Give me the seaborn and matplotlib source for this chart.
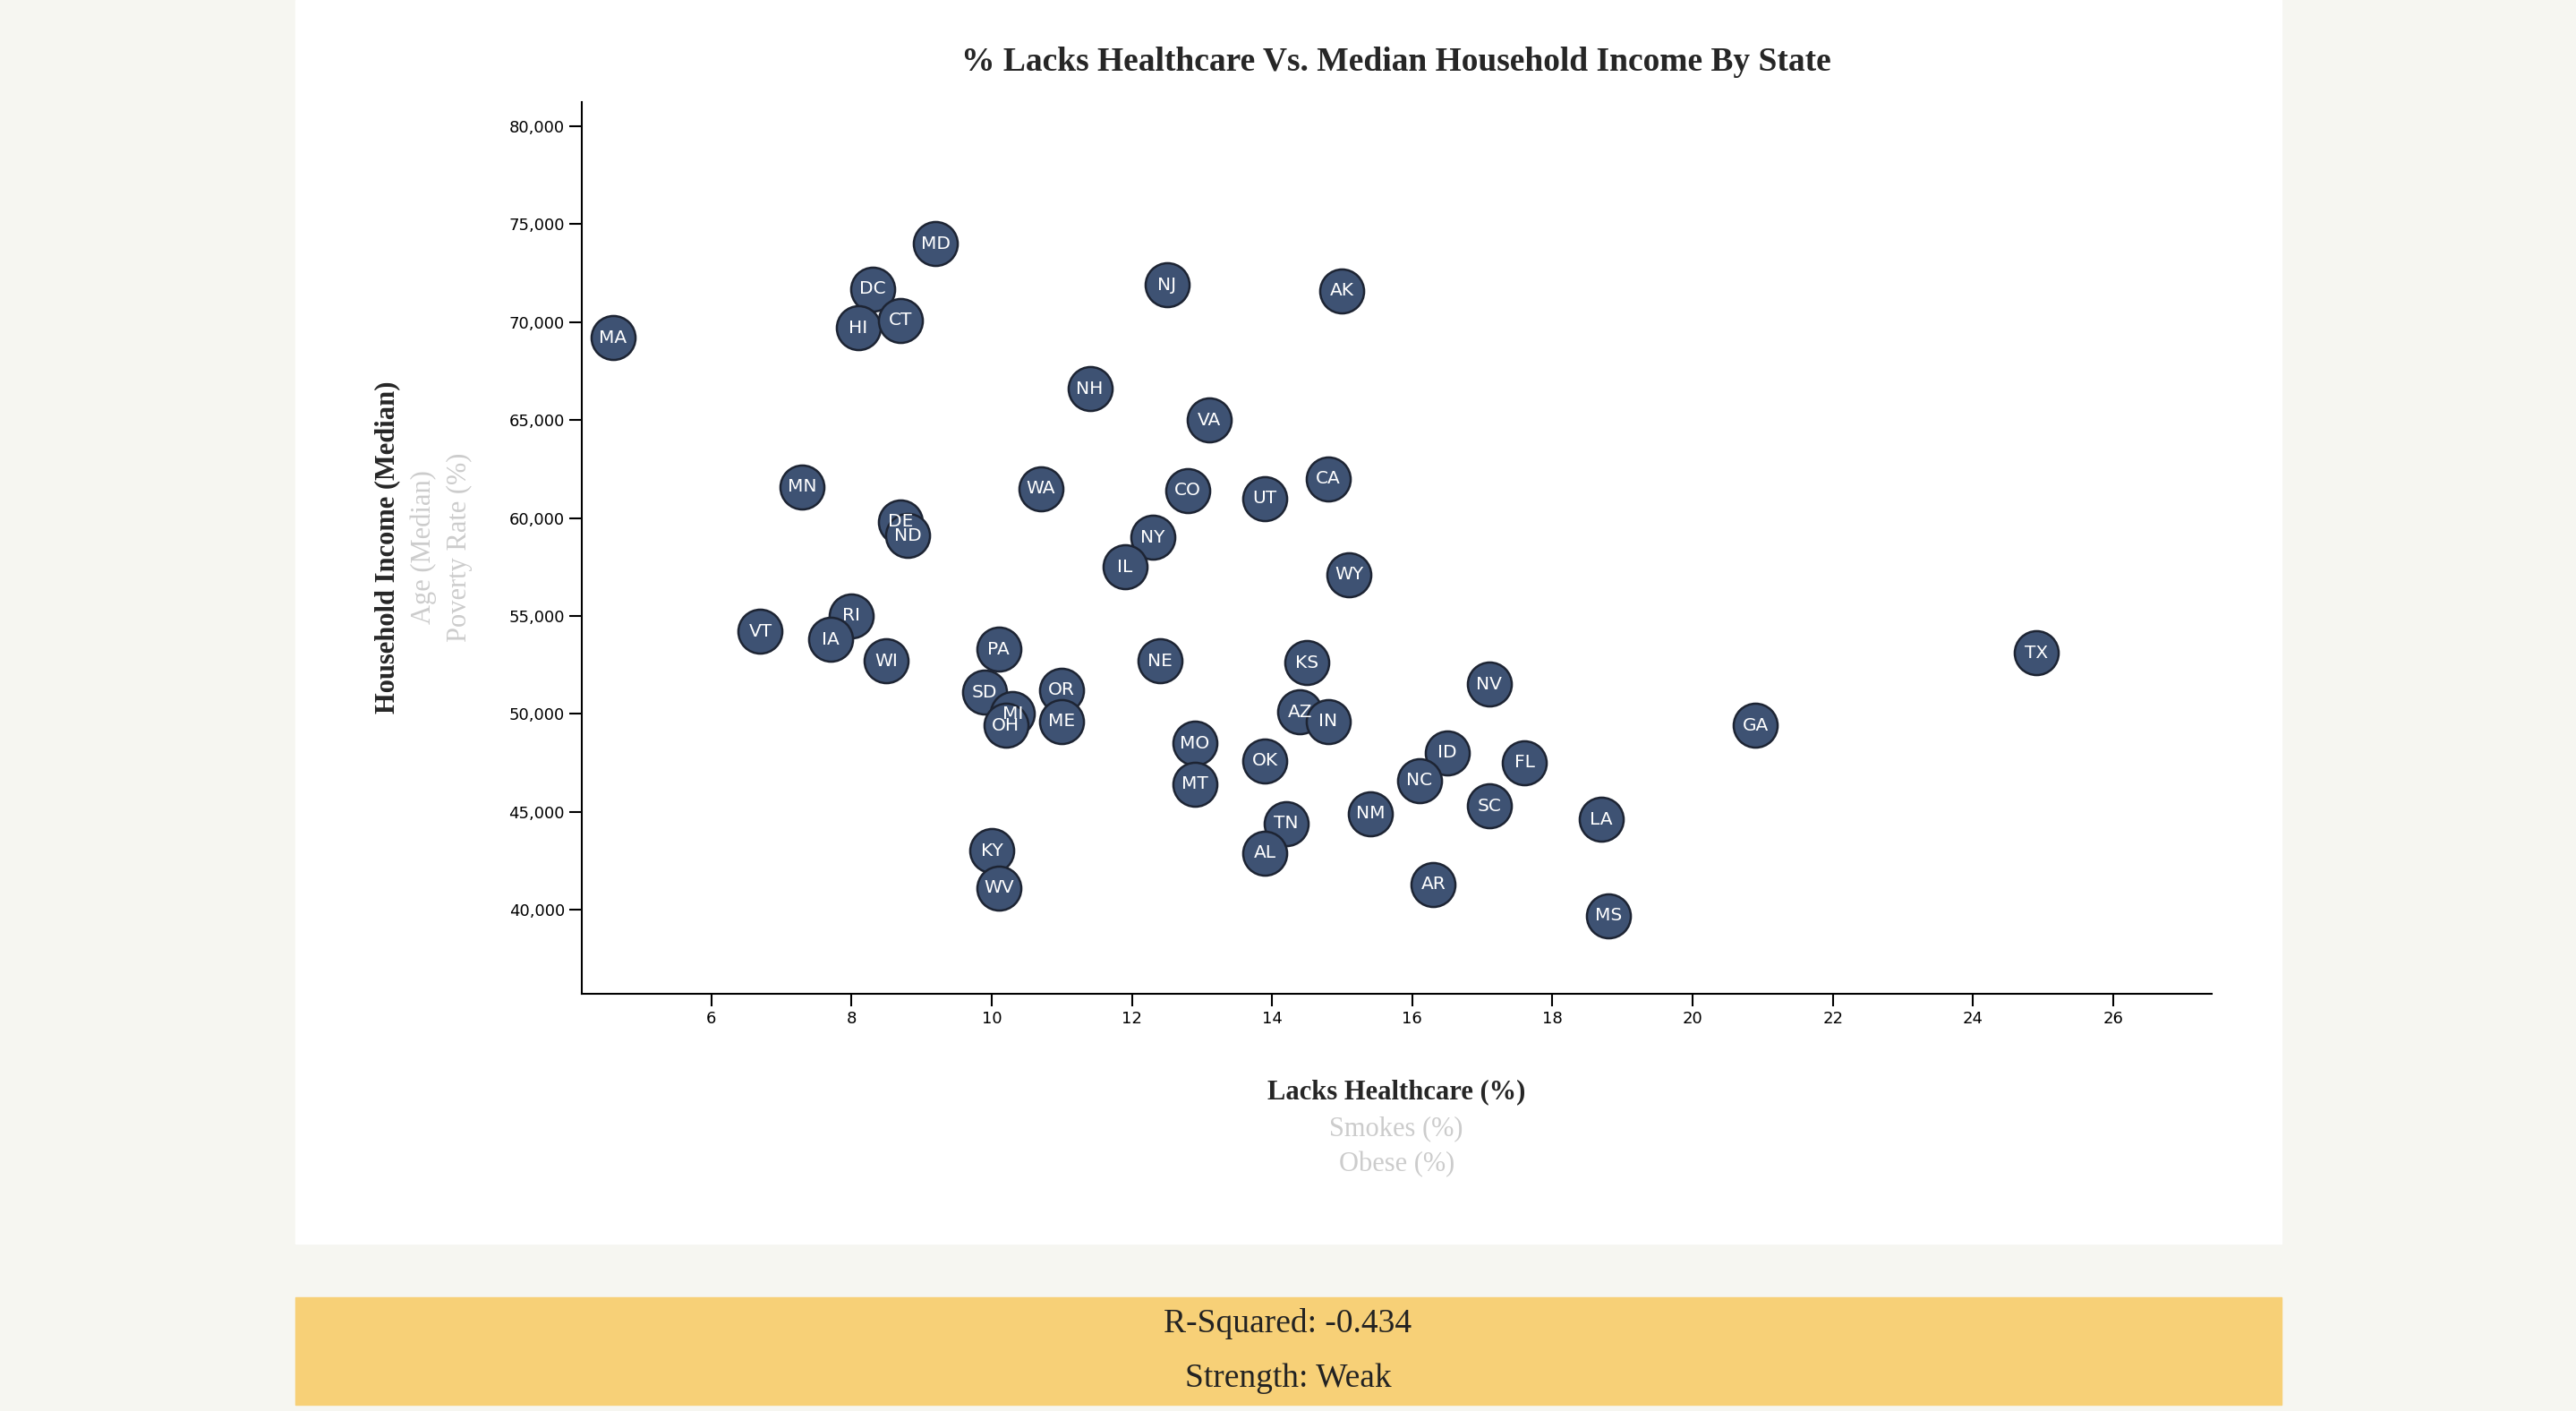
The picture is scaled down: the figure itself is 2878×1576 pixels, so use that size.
import matplotlib
matplotlib.use("Agg")
import matplotlib.pyplot as plt
import seaborn as sns
import pandas as pd
from matplotlib.patches import Rectangle
from matplotlib.ticker import FuncFormatter

states = ["MA","DC","HI","CT","MD","NJ","AK","NH","VA","MN","WA","CO","UT","CA","DE","ND","NY","IL","WY",
          "VT","RI","IA","WI","PA","NE","KS","TX","SD","OR","MI","OH","ME","AZ","IN","NV","GA","MO","OK",
          "ID","FL","NC","MT","SC","NM","TN","LA","KY","AL","AR","WV","MS"]
healthcare = [4.6,8.3,8.1,8.7,9.2,12.5,15.0,11.4,13.1,7.3,10.7,12.8,13.9,14.8,8.7,8.8,12.3,11.9,15.1,
              6.7,8.0,7.7,8.5,10.1,12.4,14.5,24.9,9.9,11.0,10.3,10.2,11.0,14.4,14.8,17.1,20.9,12.9,13.9,
              16.5,17.6,16.1,12.9,17.1,15.4,14.2,18.7,10.0,13.9,16.3,10.1,18.8]
income = [69200,71700,69700,70100,74000,71900,71600,66600,65000,61600,61500,61400,61000,62000,59800,59100,
          59000,57500,57100,54200,55000,53800,52700,53300,52700,52600,53100,51100,51200,50000,49400,49600,
          50100,49600,51500,49400,48500,47600,48000,47500,46600,46400,45300,44900,44400,44600,43000,42900,
          41300,41100,39700]
df = pd.DataFrame({"abbr": states, "healthcare": healthcare, "income": income})

sns.set_theme(style="white")
plt.rcParams["font.family"] = ["DejaVu Sans"]
fig = plt.figure(figsize=(28.78, 15.76), dpi=100)
fig.patch.set_facecolor("#f6f6f1")
W, H = 1568, 859
fig.patches.append(Rectangle((180/W, 1-757/H), 1209/W, 757/H, transform=fig.transFigure, color="white", zorder=-5))
fig.patches.append(Rectangle((180/W, 1-855/H), 1209/W, 65/H, transform=fig.transFigure, color="#f7d077", zorder=-5))

ax = fig.add_axes([354/W, 1-605/H, (1346-354)/W, (605-62)/H])
ax.set_zorder(5)
ax.patch.set_alpha(0)
sns.scatterplot(data=df, x="healthcare", y="income", ax=ax, s=1250, color="#3e5273",
                edgecolor="#1d2433", linewidth=1.8, zorder=3, legend=False)
for _, r in df.iterrows():
    ax.text(r.healthcare, r.income, r.abbr, ha="center", va="center", color="white", fontsize=14.5, zorder=4)
ax.set_xlim(4.15, 27.4)
ax.set_ylim(35700, 81250)
ax.set_xticks(range(6, 27, 2))
ax.set_yticks(range(40000, 80001, 5000))
ax.yaxis.set_major_formatter(FuncFormatter(lambda v, p: f"{int(v):,}"))
for s in ["top", "right"]:
    ax.spines[s].set_visible(False)
for s in ["left", "bottom"]:
    ax.spines[s].set_color("black")
    ax.spines[s].set_linewidth(1.5)
ax.tick_params(axis="both", direction="out", length=10, width=1.5, labelsize=13, colors="black", bottom=True, left=True)
ax.set_xlabel(""); ax.set_ylabel("")

serif = ["Liberation Serif", "DejaVu Serif"]
fig.text(850/W, 1-38/H, "% Lacks Healthcare Vs. Median Household Income By State", ha="center", va="center",
         fontsize=27, fontweight="bold", family=serif)
fig.text(850/W, 1-665/H, "Lacks Healthcare (%)", ha="center", va="center", fontsize=22, fontweight="bold", family=serif)
fig.text(850/W, 1-687/H, "Smokes (%)", ha="center", va="center", fontsize=22, color="#cccccc", family=serif)
fig.text(850/W, 1-709/H, "Obese (%)", ha="center", va="center", fontsize=22, color="#cccccc", family=serif)
fig.text(236/W, 1-333/H, "Household Income (Median)", ha="center", va="center", rotation=90, fontsize=22, fontweight="bold", family=serif)
fig.text(258/W, 1-333/H, "Age (Median)", ha="center", va="center", rotation=90, fontsize=22, color="#cccccc", family=serif)
fig.text(280/W, 1-333/H, "Poverty Rate (%)", ha="center", va="center", rotation=90, fontsize=22, color="#cccccc", family=serif)
fig.text(784/W, 1-806/H, "R-Squared: -0.434", ha="center", va="center", fontsize=27, color="#222222", family=serif)
fig.text(784/W, 1-839/H, "Strength: Weak", ha="center", va="center", fontsize=27, color="#222222", family=serif)

fig.savefig("out.png", dpi=100, facecolor=fig.get_facecolor())
